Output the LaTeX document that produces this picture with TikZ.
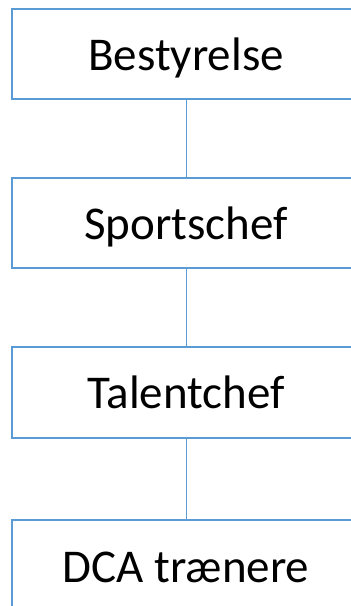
\documentclass[tikz,border=0pt]{standalone}
\usepackage{fontspec}
\setmainfont{Carlito}
\definecolor{boxblue}{HTML}{5B9BD5}
\begin{document}
\begin{tikzpicture}[x=1pt,y=-1pt,
  boxtext/.style={font=\fontsize{47}{50}\selectfont, text=black, text height=32pt, text depth=0pt, inner sep=0pt},
  orgbox/.style={boxtext, draw=boxblue, line width=1.3pt, fill=white, minimum width=348pt},
  link/.style={draw=boxblue, line width=0.9pt}]
\useasboundingbox (0,0) rectangle (351,606);
\clip (0,0) rectangle (351,606);
\node[orgbox, minimum height=90pt] (b1) at (186,54) {Bestyrelse};
\node[orgbox, minimum height=90pt] (b2) at (186,223) {Sportschef};
\node[orgbox, minimum height=91pt] (b3) at (186,392.5) {Talentchef};
\node[orgbox, minimum height=180pt] (b4) at (186,610) {};
\node[boxtext] (t4) at (186,566) {DCA trænere};
\draw[link] (b1.south) -- (b2.north);
\draw[link] (b2.south) -- (b3.north);
\draw[link] (b3.south) -- (b4.north);
\end{tikzpicture}
\end{document}
